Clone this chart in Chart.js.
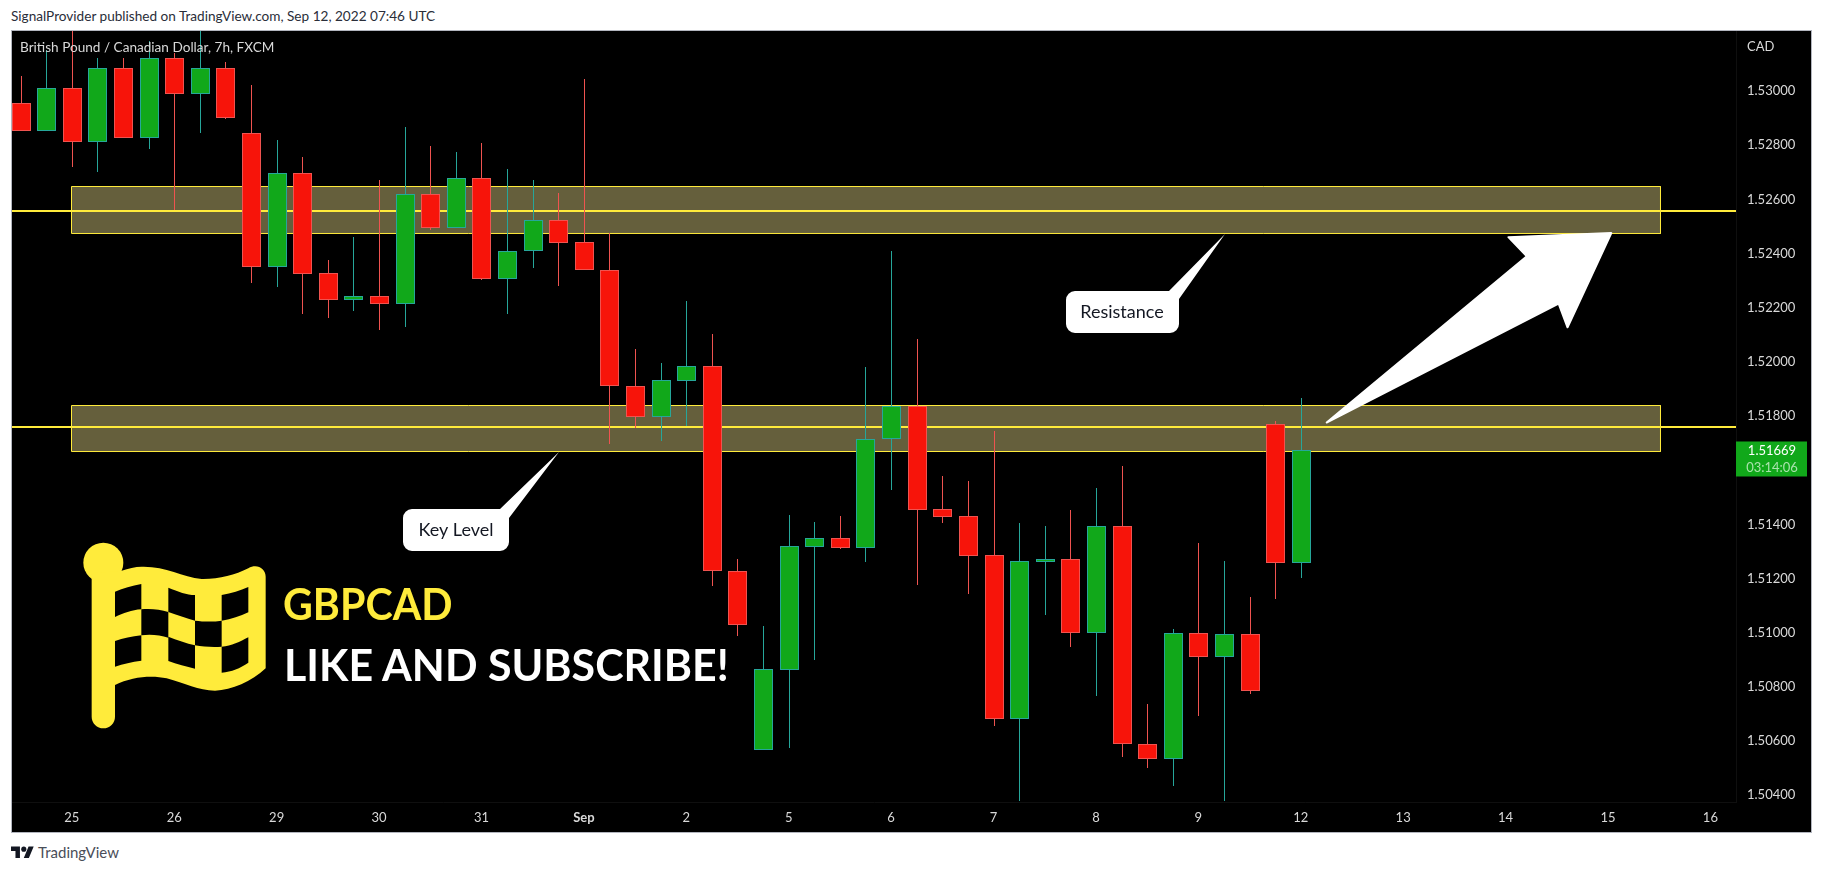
<!DOCTYPE html>
<html>
<head>
<meta charset="utf-8">
<title>GBPCAD</title>
<script src="https://cdn.jsdelivr.net/npm/chart.js@4"></script>
<style>
    body { margin: 0; background: #fff; width: 1823px; height: 872px; overflow: hidden; font-family: Lato, sans-serif; position: relative; }
    .t { position: absolute; white-space: nowrap; line-height: 1; transform-origin: left center; }
    #frame { position: absolute; left: 11px; top: 30px; width: 1801px; height: 803px; box-sizing: border-box; border: 1px solid #b2b5be; background: #000; }
    canvas { position: absolute; left: 12px; top: 31px; }
    #flag { position: absolute; left: 75px; top: 530px; }
    #logo { position: absolute; left: 11px; top: 844px; }
</style>
</head>
<body>
<div class="t" style="left:11px;top:10px;font-size:13.6px;color:#2a2e39">SignalProvider published on TradingView.com, Sep 12, 2022 07:46 UTC</div>
<div id="frame"></div>
<canvas id="grafico" width="1799" height="801"></canvas>
<div class="t" style="left:20px;top:41px;font-size:13.6px;color:#d9d9d9">British Pound / Canadian Dollar, 7h, FXCM</div>
<div class="t" style="left:1747px;top:40px;font-size:13px;color:#d9d9d9">CAD</div>
<svg id="flag" width="200" height="210" viewBox="0 0 600 630">
    <circle cx="85" cy="98" r="60" fill="#ffeb3b"/>
    <path fill="#ffeb3b" d="M50 130 L50 560 A35 35 0 0 0 120 560 L120 465 C170 440 230 435 275 445 C330 460 370 482 420 482 C470 480 530 455 572 415 L572 140 C572 115 545 100 520 115 C480 135 430 148 380 147 C320 140 270 108 200 110 C180 110 160 115 140 122 Z"/>
    <g fill="#000">
        <path d="M120 185 C145 175 170 167 199 162 L199 238 C170 240 145 250 120 261 Z"/>
        <path d="M280 173 C310 185 335 195 360 195 L360 272 C335 265 305 255 280 246 Z"/>
        <path d="M440 195 C470 190 495 182 520 171 L520 247 C495 258 470 268 440 272 Z"/>
        <path d="M199 238 C225 235 255 238 280 246 L280 323 C255 315 225 312 199 316 Z"/>
        <path d="M360 272 C385 275 415 276 440 272 L440 350 C415 353 385 350 360 346 Z"/>
        <path d="M120 333 C145 325 170 320 199 316 L199 392 C170 395 145 402 120 410 Z"/>
        <path d="M280 320 C305 330 335 340 360 346 L360 416 C335 410 305 402 280 393 Z"/>
        <path d="M440 350 C470 348 495 335 520 322 L520 398 C495 415 470 425 440 428 Z"/>
    </g>
</svg>
<div class="t" style="left:283px;top:581px;font-size:44px;font-weight:700;color:#ffeb3b;transform:scaleX(.935)">GBPCAD</div>
<div class="t" style="left:284px;top:642px;font-size:44px;font-weight:700;color:#fff;transform:scaleX(.975)">LIKE AND SUBSCRIBE!</div>
<svg id="logo" width="23" height="18" viewBox="0 0 36 28"><path fill="#131722" d="M14 22H7V11H0V4h14v18zM28 22h-8l7.5-18h8L28 22z"/><circle cx="20" cy="8" r="4" fill="#131722"/></svg>
<div class="t" style="left:38px;top:845px;font-size:15px;color:#4a4e59">TradingView</div>
<script>
// velas de 7h
const opens = [1.52947, 1.52846, 1.53002, 1.52806, 1.53077, 1.52818, 1.53114, 1.52983, 1.53077, 1.52837,
    1.52344, 1.52689, 1.52319, 1.52222, 1.52234, 1.52207, 1.52611, 1.52488, 1.5267, 1.523,
    1.52401, 1.52518, 1.52434, 1.5233, 1.51905, 1.5179, 1.51923, 1.51976, 1.51222, 1.5056,
    1.50856, 1.5131, 1.51341, 1.51306, 1.51706, 1.51829, 1.51448, 1.51422, 1.51278, 1.50675,
    1.51254, 1.51263, 1.50992, 1.51385, 1.50583, 1.50528, 1.5099, 1.50904, 1.50986, 1.51762, 1.51251];
const highs = [1.53048, 1.53144, 1.5325, 1.53114, 1.53114, 1.53178, 1.53132, 1.5325, 1.531, 1.53015,
    1.52812, 1.52749, 1.52369, 1.52454, 1.52664, 1.52859, 1.5279, 1.52768, 1.52801, 1.52705,
    1.52664, 1.52616, 1.53037, 1.52467, 1.5204, 1.51988, 1.52217, 1.52096, 1.51264, 1.51017,
    1.51427, 1.51401, 1.51423, 1.51973, 1.52402, 1.52077, 1.51571, 1.51552, 1.51737, 1.51398,
    1.51386, 1.51446, 1.51527, 1.51608, 1.50729, 1.51006, 1.51324, 1.51257, 1.51125, 1.51773, 1.5186];
const lows = [1.52846, 1.52846, 1.52713, 1.52695, 1.52818, 1.5278, 1.52553, 1.52837, 1.52888, 1.52285,
    1.5227, 1.52171, 1.52156, 1.52182, 1.52112, 1.52123, 1.52481, 1.52488, 1.52295, 1.52171,
    1.5234, 1.52274, 1.5233, 1.51689, 1.51747, 1.51702, 1.51756, 1.51166, 1.50981, 1.5056,
    1.50567, 1.50891, 1.51301, 1.51254, 1.5152, 1.51169, 1.51399, 1.51137, 1.50649, 1.50372,
    1.51059, 1.50939, 1.5076, 1.50535, 1.50494, 1.50428, 1.50686, 1.50372, 1.50767, 1.51118, 1.51196];
const closes = [1.52846, 1.53002, 1.52806, 1.53077, 1.52818, 1.53114, 1.52983, 1.53077, 1.52894, 1.52344,
    1.52689, 1.52318, 1.52222, 1.52234, 1.52207, 1.52611, 1.52488, 1.5267, 1.523, 1.52401,
    1.52518, 1.52433, 1.5233, 1.51904, 1.5179, 1.51924, 1.51976, 1.51221, 1.51022, 1.50858,
    1.51311, 1.51341, 1.51306, 1.51706, 1.51829, 1.51447, 1.51421, 1.51277, 1.50675, 1.51256,
    1.51263, 1.50992, 1.51385, 1.50582, 1.50528, 1.5099, 1.50904, 1.50986, 1.50779, 1.51251, 1.51666];

const tickIndices = [2, 6, 10, 14, 18, 22, 26, 30, 34, 38, 42, 46, 50, 54, 58, 62, 66];
const tickLabels = ['25', '26', '29', '30', '31', 'Sep', '2', '5', '6', '7', '8', '9', '12', '13', '14', '15', '16'];
const priceTicks = [1.504, 1.506, 1.508, 1.51, 1.512, 1.514, 1.516, 1.518, 1.52, 1.522, 1.524, 1.526, 1.528, 1.53];

const zoneStart = 1.988, zoneEnd = 64.051;
const resistanceZone = [1.524665, 1.5264];
const keyLevelZone = [1.516615, 1.518314];
const resistanceLine = 1.525496;
const keyLevelLine = 1.51752;

const arrowIdx = [50.99, 60.07, 60.42, 62.13, 58.11, 58.83, 50.99];
const arrowPrice = [1.51767, 1.52208, 1.5212, 1.52468, 1.52453, 1.52382, 1.51767];

const lastPrice = 1.51669;
const countdown = '03:14:06';

const xMin = -0.336, xMax = 67;
const yMin = 1.503674, yMax = 1.532142;

const RED = '#f7140a', GREEN = '#11a81a', WICK_RED = '#ef5350', WICK_GREEN = '#26a69a', YELLOW = '#ffeb3b';
const candleColor = (a, b) => opens.map(function (o, i) { return o <= closes[i] ? b : a; });

function zona(faixa) {
    return [
        { x: zoneStart, y: faixa[0] }, { x: zoneStart, y: faixa[1] },
        { x: zoneEnd, y: faixa[1] }, { x: zoneEnd, y: faixa[0] }, { x: zoneStart, y: faixa[0] }
    ];
}

function datasetZona(faixa) {
    return { type: 'line', data: zona(faixa), order: 5, fill: 'shape', backgroundColor: '#655f3c',
        borderColor: YELLOW, borderWidth: 1, pointRadius: 0, tension: 0 };
}

function datasetLinha(preco) {
    return { type: 'line', data: [{ x: xMin, y: preco }, { x: xMax, y: preco }], order: 4, fill: false,
        borderColor: YELLOW, borderWidth: 2, pointRadius: 0, tension: 0 };
}

function balao(ctx, x0, y0, x1, y1, r, tip, baseA, baseB, texto, tx, ty) {
    ctx.beginPath();
    ctx.moveTo(x0 + r, y0);
    ctx.lineTo(baseA[0], baseA[1]);
    ctx.lineTo(tip[0], tip[1]);
    ctx.lineTo(baseB[0], baseB[1]);
    ctx.lineTo(x1, y1 - r);
    ctx.arcTo(x1, y1, x1 - r, y1, r);
    ctx.lineTo(x0 + r, y1);
    ctx.arcTo(x0, y1, x0, y1 - r, r);
    ctx.lineTo(x0, y0 + r);
    ctx.arcTo(x0, y0, x0 + r, y0, r);
    ctx.closePath();
    ctx.fillStyle = '#fff';
    ctx.fill();
    ctx.fillStyle = '#131722';
    ctx.font = '18px Lato';
    ctx.textAlign = 'center';
    ctx.textBaseline = 'middle';
    ctx.fillText(texto, tx, ty);
}

const extras = {
    id: 'extras',
    afterDatasetsUpdate(chart) {
        // alinha as velas ao pixel
        [0, 1].forEach(function (d) {
            chart.getDatasetMeta(d).data.forEach(function (el) {
                el.x = Math.round(el.x) + 0.5;
                el.y = Math.round(el.y);
                el.base = Math.round(el.base);
            });
        });
    },
    beforeDraw(chart) {
        // desce os rotulos de preco para o centro do tick
        chart.scales.y.getLabelItems(chart.chartArea).forEach(function (item) {
            item.options.translation[1] += 2;
        });
    },
    afterDraw(chart) {
        const ctx = chart.ctx;
        ctx.save();
        ctx.translate(-12, -31);
        balao(ctx, 403, 509, 509, 551, 9, [559, 452], [500, 509], [509, 518], 'Key Level', 456, 530);
        balao(ctx, 1066, 291, 1179, 333, 9, [1225, 234], [1169, 291], [1179, 299], 'Resistance', 1122, 312);
        ctx.restore();

        const y = chart.scales.y.getPixelForValue(lastPrice);
        const left = chart.chartArea.right;
        ctx.save();
        ctx.fillStyle = GREEN;
        ctx.fillRect(left, y - 8, 71, 35);
        ctx.font = '13px Lato';
        ctx.textAlign = 'center';
        ctx.textBaseline = 'middle';
        ctx.fillStyle = '#fff';
        ctx.fillText(lastPrice.toFixed(5), left + 36, y + 1);
        ctx.fillStyle = '#a9e2ac';
        ctx.fillText(countdown, left + 36, y + 18);
        ctx.restore();
    }
};

document.addEventListener('DOMContentLoaded', function () {
    new Chart(document.getElementById('grafico').getContext('2d'), {
        type: 'bar',
        data: {
            datasets: [
                {
                    // corpos
                    data: opens.map(function (o, i) { return { x: i, y: [o, closes[i]] }; }),
                    order: 2, grouped: false, barThickness: 19,
                    backgroundColor: candleColor(RED, GREEN),
                    borderColor: candleColor(WICK_RED, WICK_GREEN),
                    borderWidth: 1, borderSkipped: false, inflateAmount: 0
                },
                {
                    // pavios
                    data: lows.map(function (l, i) { return { x: i, y: [l, highs[i]] }; }),
                    order: 3, grouped: false, barThickness: 1,
                    backgroundColor: candleColor(WICK_RED, WICK_GREEN),
                    borderWidth: 0, inflateAmount: 0
                },
                datasetZona(resistanceZone),
                datasetZona(keyLevelZone),
                datasetLinha(resistanceLine),
                datasetLinha(keyLevelLine),
                {
                    type: 'line',
                    data: arrowIdx.map(function (x, i) { return { x: x, y: arrowPrice[i] }; }),
                    order: 1, fill: 'shape', backgroundColor: '#fff', borderColor: '#fff',
                    borderWidth: 2, borderJoinStyle: 'round', pointRadius: 0, tension: 0
                }
            ]
        },
        options: {
            responsive: false,
            animation: false,
            events: [],
            layout: { padding: 0, autoPadding: false },
            plugins: { legend: { display: false }, tooltip: { enabled: false } },
            scales: {
                x: {
                    type: 'linear', min: xMin, max: xMax, offset: false,
                    grid: { display: false, drawTicks: false },
                    border: { color: '#0f0f0f' },
                    afterBuildTicks: function (axis) { axis.ticks = tickIndices.map(function (v) { return { value: v }; }); },
                    afterFit: function (axis) { axis.height = 30; axis.paddingLeft = 0; axis.paddingRight = 0; },
                    ticks: {
                        autoSkip: false, maxRotation: 0, padding: 8, color: '#d9d9d9',
                        font: function (c) {
                            const bold = c.tick && tickLabels[tickIndices.indexOf(c.tick.value)] === 'Sep';
                            return { family: 'Lato', size: 13, weight: bold ? 'bold' : 'normal' };
                        },
                        callback: function (v) { return tickLabels[tickIndices.indexOf(v)]; }
                    }
                },
                y: {
                    position: 'right', min: yMin, max: yMax,
                    grid: { display: false, drawTicks: false },
                    border: { color: '#0f0f0f' },
                    afterBuildTicks: function (axis) { axis.ticks = priceTicks.map(function (v) { return { value: v }; }); },
                    afterFit: function (axis) { axis.width = 75; axis.paddingTop = 0; axis.paddingBottom = 0; },
                    ticks: {
                        padding: 11, color: '#d9d9d9', font: { family: 'Lato', size: 13 },
                        callback: function (v) { return Number(v).toFixed(5); }
                    }
                }
            }
        },
        plugins: [extras]
    });
});
</script>
</body>
</html>
